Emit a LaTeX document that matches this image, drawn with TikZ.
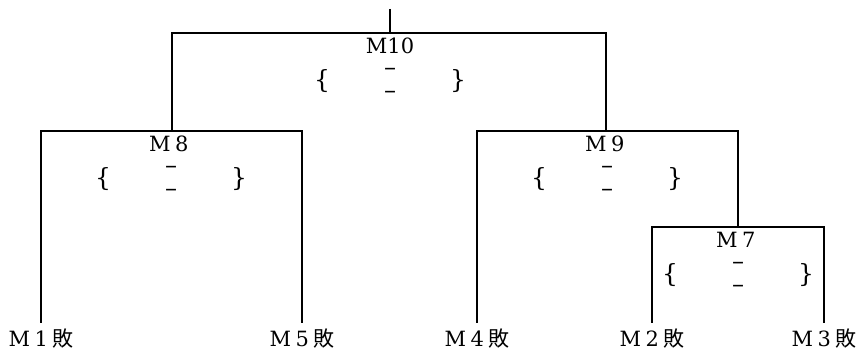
\documentclass[tikz,border=0pt]{standalone}
\usepackage{fontspec}
\setmainfont{DejaVu Serif}
\newfontfamily\cjk{Noto Sans CJK JP}
\newcommand\fwd[1]{\makebox[1.05em]{#1}}
\begin{document}
\begin{tikzpicture}[x=1pt,y=-1pt,
  wire/.style={line width=2pt},
  lbl/.style={font=\fontsize{21}{24}\selectfont, inner sep=0pt},
  leaf/.style={lbl, anchor=north, inner ysep=6pt},
  bracechar/.style={font=\fontsize{25}{25}\selectfont, inner sep=0pt},
  scoredash/.style={font=\fontsize{24}{24}\selectfont, inner sep=0pt,
    text height=0pt, text depth=0pt, anchor=base}]
\useasboundingbox (0,0) rectangle (859,352);
% junctions
\coordinate (top) at (390,9);
\coordinate (j10) at (390,33);
\coordinate (j8) at (172,131);
\coordinate (j9) at (606,131);
\coordinate (j7) at (738,227);
% leaves
\node[leaf] (m1) at (41,323) {M\fwd{1}{\cjk 敗}};
\node[leaf] (m5) at (302,323) {M\fwd{5}{\cjk 敗}};
\node[leaf] (m4) at (477,323) {M\fwd{4}{\cjk 敗}};
\node[leaf] (m2) at (652,323) {M\fwd{2}{\cjk 敗}};
\node[leaf] (m3) at (824,323) {M\fwd{3}{\cjk 敗}};
% bracket lines
\draw[wire] (top) -- (j10);
\draw[wire] (j8) |- (j10) -| (j9);
\draw[wire] (m1.north) |- (j8) -| (m5.north);
\draw[wire] (m4.north) |- (j9) -| (j7);
\draw[wire] (m2.north) |- (j7) -| (m3.north);
% match labels
\node[lbl] (t10) at (390,45.5) {M10};
\node[lbl] (t8) at (171,143.5) {M\fwd{8}};
\node[lbl] (t9) at (607,143.5) {M\fwd{9}};
\node[lbl] (t7) at (738,239.5) {M\fwd{7}};
% score brackets
\foreach \cx/\cy/\n in {390/33/a, 171/131/b, 607/131/c, 738/227/d}{
  \node[bracechar] (lb\n) at (\cx-68,\cy+48) {\{};
  \node[bracechar] (rb\n) at (\cx+68,\cy+48) {\}};
  \node[scoredash] (ud\n) at (\cx,\cy+43) {–};
  \node[scoredash] (ld\n) at (\cx,\cy+66) {–};
}
\end{tikzpicture}
\end{document}
